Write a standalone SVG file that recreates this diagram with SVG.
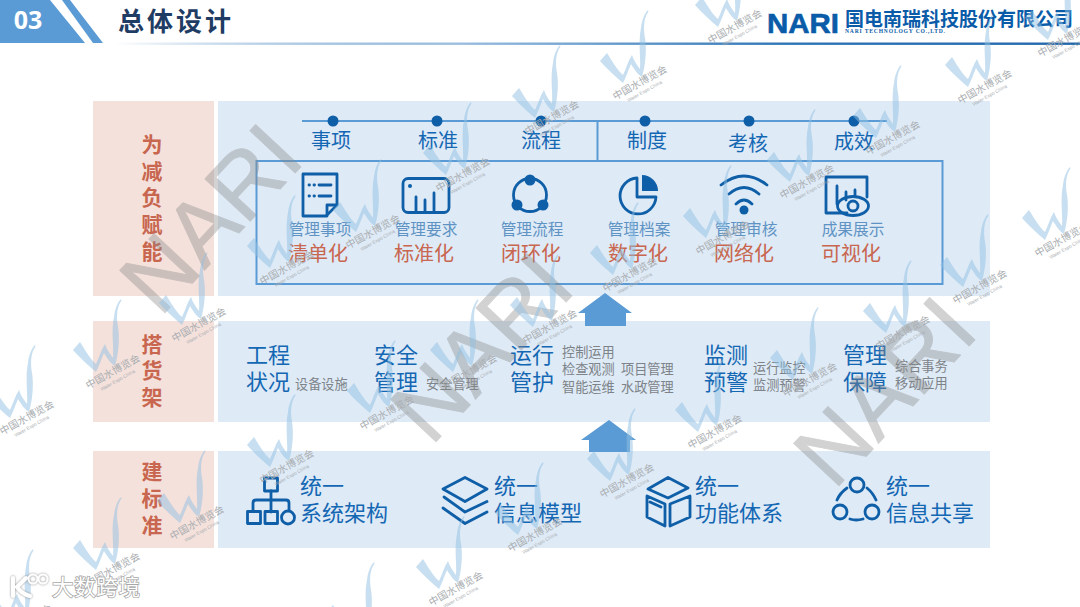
<svg xmlns="http://www.w3.org/2000/svg" width="1080" height="607" viewBox="0 0 1080 607">
<style>
text{font-family:"Noto Sans CJK SC","Liberation Sans",sans-serif}
.pink{fill:#f4e1dc}.blue{fill:#deeaf6}
.lab{font-size:21px;font-weight:700;fill:#c8664f;text-anchor:middle}
.head{font-size:20px;fill:#1467b3;text-anchor:middle}
.sub{font-size:15.7px;fill:#5f93c4;text-anchor:middle}
.red{font-size:20px;fill:#c8664f;text-anchor:middle}
.big{font-size:22px;fill:#1467b3}
.small{font-size:13.2px;fill:#7d8388}
.ic{fill:none;stroke:#0f5fa8;stroke-width:2.8;stroke-linecap:round;stroke-linejoin:round}
.icf{fill:#0f5fa8}
.ln{fill:none;stroke:#5b9bd5;stroke-width:2}
.arrow{fill:#5b9bd5}
.nari{font-family:"Liberation Sans",sans-serif;font-size:90px;fill:#8a8a8a;stroke:#8a8a8a;stroke-width:1;stroke-linejoin:round;opacity:.38}
.wmc{font-size:10px;fill:#a9adb1;text-anchor:middle}
.wme{font-family:"Liberation Sans",sans-serif;font-size:4.8px;fill:#a9adb1;text-anchor:middle}
.mark{font-size:21.5px;fill:#fff;stroke:#a8a8a8;stroke-width:1.6px;paint-order:stroke}
</style>
<defs>
<linearGradient id="rule" x1="0" x2="1" y1="0" y2="0"><stop offset="0" stop-color="#2e75b6" stop-opacity="0"/><stop offset=".35" stop-color="#9dbfe0"/><stop offset=".7" stop-color="#2e75b6"/><stop offset="1" stop-color="#2468ab"/></linearGradient>
<filter id="sh" x="-10%" y="-20%" width="120%" height="140%"><feDropShadow dx="0" dy="0" stdDeviation="1" flood-color="#777" flood-opacity=".9"/></filter>
<g id="wm">
<path d="M-40,-22L-33,-30C-28,-22 -22,-12 -17,-8C-14,-14 -12,-22 -8,-28C-6,-22 -3,-18 0,-14C1,-26 -2,-40 1,-55C2,-64 5,-70 8,-73C8.500,-72 8.500,-71 7.500,-70C4,-64 3.500,-56 4.500,-48C7,-36 6,-20 2,-6C-2,-8 -6,-14 -9,-19C-12,-12 -14,-6 -17,0C-24,-6 -33,-14 -40,-22Z" fill="#8fc0e2" opacity=".5"/>
<g transform="rotate(-29)"><text class="wmc" y="3">中国水博览会</text><text class="wme" y="11">Water Expo China</text></g>
</g>
</defs>
<rect width="1080" height="607" fill="#fff"/>

<g id="header">
<polygon points="0,0 50,0 85,43 0,43" fill="#5b9bd5"/>
<polygon points="62,0 70,0 103,43 93,43" fill="#5b9bd5"/>
<text x="28" y="29" font-size="25" font-weight="700" fill="#fff" text-anchor="middle" style="font-family:'Open Sans',sans-serif">03</text>
<text x="118" y="31" font-size="26" font-weight="700" fill="#1f3c64" letter-spacing="3">总体设计</text>
<rect x="115" y="42.5" width="965" height="2.4" fill="url(#rule)"/>
</g>
<g id="logo">
<text x="767" y="33" font-size="28.500" font-weight="700" fill="#0a5ba8" stroke="#0a5ba8" stroke-width=".6" textLength="72" lengthAdjust="spacingAndGlyphs" style="font-family:'Liberation Sans',sans-serif">NARI</text>
<text x="845" y="26" font-size="19" font-weight="700" fill="#0a5ba8" textLength="228" lengthAdjust="spacingAndGlyphs">国电南瑞科技股份有限公司</text>
<text x="845" y="33" font-size="5.6" font-weight="700" fill="#0a5ba8" textLength="100" style="font-family:'Liberation Serif',serif">NARI TECHNOLOGY CO.,LTD.</text>
</g>

<g id="layer-top">
<rect class="pink" x="93" y="101" width="121" height="195"/>
<rect class="blue" x="218" y="101" width="772" height="195"/>
<text class="lab" x="152" y="152">为</text><text class="lab" x="152" y="179">减</text><text class="lab" x="152" y="205">负</text><text class="lab" x="152" y="232">赋</text><text class="lab" x="152" y="259">能</text>
</g>
<g id="layer-mid">
<rect class="pink" x="93" y="321" width="121" height="101"/>
<rect class="blue" x="218" y="321" width="772" height="101"/>
<text class="lab" x="152" y="352">搭</text><text class="lab" x="152" y="378">货</text><text class="lab" x="152" y="405">架</text>
</g>
<g id="layer-bottom">
<rect class="pink" x="93" y="451" width="121" height="97"/>
<rect class="blue" x="218" y="451" width="772" height="97"/>
<text class="lab" x="152" y="479">建</text><text class="lab" x="152" y="506">标</text><text class="lab" x="152" y="533">准</text>
</g>

<g id="connectors">
<path class="ln" d="M302,121H887M597.500,121V161"/>
<rect class="ln" x="256.500" y="161" width="686" height="123"/>
<g class="icf"><circle cx="333" cy="121" r="5.500"/><circle cx="437" cy="121" r="5.500"/><circle cx="541" cy="121" r="5.500"/><circle cx="645" cy="121" r="5.500"/><circle cx="749" cy="121" r="5.500"/><circle cx="854" cy="121" r="5.500"/></g>
<polygon class="arrow" points="605,293 632,313 626,313 626,326 585,326 585,313 578,313"/>
<polygon class="arrow" points="609,420 636,440 630,440 630,452 589,452 589,440 581,440"/>
</g>

<g id="node-shixiang"><text class="head" x="331" y="148">事项</text>
<path class="ic" d="M303,174H337V205L326,216H303Z"/><path class="ic" d="M337,205H327V216" stroke-width="2"/><path class="ic" stroke-width="1.800" d="M309,185H309.500M314,185H314.500M319,185H331M309,196H309.500M314,196H314.500M319,196H331"/>
<text class="sub" x="320" y="235">管理事项</text><text class="red" x="318" y="261">清单化</text></g>
<g id="node-biaozhun"><text class="head" x="438" y="148">标准</text>
<rect class="ic" x="403" y="178.500" width="46" height="34" rx="5" stroke-width="3"/><circle class="icf" cx="410" cy="186" r="2"/><path class="ic" d="M416,197V211M425,200V211M434,193V211"/>
<text class="sub" x="426" y="235">管理要求</text><text class="red" x="424" y="261">标准化</text></g>
<g id="node-liucheng"><text class="head" x="541" y="148">流程</text>
<circle class="ic" cx="530" cy="195" r="16.500"/><circle class="icf" cx="530" cy="180" r="5.500"/><circle class="icf" cx="517" cy="205" r="5.500"/><circle class="icf" cx="543" cy="205" r="5.500"/>
<text class="sub" x="532" y="235">管理流程</text><text class="red" x="531" y="261">闭环化</text></g>
<g id="node-zhidu"><text class="head" x="647" y="148">制度</text>
<path class="ic" d="M637,178A18,18 0 1 0 656,197H637Z"/><path class="icf" d="M642,175A16,16 0 0 1 658,191H642Z"/>
<text class="sub" x="639" y="235">管理档案</text><text class="red" x="638" y="261">数字化</text></g>
<g id="node-kaohe"><text class="head" x="748" y="151">考核</text>
<path class="ic" stroke-width="3" d="M721,185Q744,167 767,185M729,194Q744,181 759,194M736,204Q744,196 752,204"/><circle class="icf" cx="744" cy="210" r="4.500"/>
<text class="sub" x="746" y="235">管理审核</text><text class="red" x="744" y="261">网络化</text></g>
<g id="node-chengxiao"><text class="head" x="854" y="149">成效</text>
<path class="ic" d="M867,197V177H826V213H847M837,186V204M846,192V200M855,190V195"/><ellipse class="ic" cx="853" cy="206" rx="15.500" ry="9.500" stroke-width="2"/><circle class="ic" cx="853" cy="206" r="5" stroke-width="2"/>
<text class="sub" x="853" y="235">成果展示</text><text class="red" x="851" y="261">可视化</text></g>

<g id="node-gongcheng"><text class="big" x="246" y="363">工程</text><text class="big" x="246" y="390">状况</text><text class="small" x="295" y="389">设备设施</text></g>
<g id="node-anquan"><text class="big" x="374" y="363">安全</text><text class="big" x="374" y="390">管理</text><text class="small" x="426" y="389">安全管理</text></g>
<g id="node-yunxing"><text class="big" x="510" y="363">运行</text><text class="big" x="510" y="390">管护</text><text class="small" x="562" y="357">控制运用</text><text class="small" x="562" y="374">检查观测</text><text class="small" x="562" y="392">智能运维</text><text class="small" x="621" y="374">项目管理</text><text class="small" x="621" y="392">水政管理</text></g>
<g id="node-jiance"><text class="big" x="704" y="363">监测</text><text class="big" x="704" y="390">预警</text><text class="small" x="753" y="373">运行监控</text><text class="small" x="753" y="390">监测预警</text></g>
<g id="node-baozhang"><text class="big" x="843" y="363">管理</text><text class="big" x="843" y="390">保障</text><text class="small" x="895" y="371">综合事务</text><text class="small" x="895" y="388">移动应用</text></g>

<g id="node-jiagou"><text class="big" x="300" y="494">统一</text><text class="big" x="300" y="521">系统架构</text>
<rect class="ic" x="264.500" y="478" width="13" height="13"/><path class="ic" d="M271,491V512M253,510V503Q253,500 256,500H286Q289,500 289,503V510"/><rect class="ic" x="247.500" y="511.500" width="13" height="12"/><rect class="ic" x="265" y="511.500" width="12.500" height="12"/><circle class="ic" cx="288" cy="517.500" r="6.500"/></g>
<g id="node-moxing"><text class="big" x="494" y="494">统一</text><text class="big" x="494" y="521">信息模型</text>
<path class="ic" stroke-width="3" d="M443,489L465,477.500L487,489L465,501.500ZM444,497L465,512L487,501.500M443,508L465,523.500L487,512"/></g>
<g id="node-tixi"><text class="big" x="695" y="494">统一</text><text class="big" x="695" y="521">功能体系</text>
<path class="ic" stroke-width="3" d="M648,489L668,477.500L688,488L668,498ZM647,496L665,504V526L647,517ZM670,504L690,496V517L670,526ZM650,502L661,507"/></g>
<g id="node-gongxiang"><text class="big" x="886" y="494">统一</text><text class="big" x="886" y="521">信息共享</text>
<circle class="ic" cx="857" cy="485" r="7"/><circle class="ic" cx="840" cy="512" r="7"/><circle class="ic" cx="872" cy="512" r="7"/><path class="ic" d="M837,500Q840,493 847,488M867,488Q873,493 876,500M850,519Q856,521 863,519"/></g>

<g id="watermark-nari">
<text class="nari" transform="translate(160,318) rotate(-47)">NARI</text>
<text class="nari" transform="translate(431,447) rotate(-47)">NARI</text>
<text class="nari" transform="translate(834,491) rotate(-47)">NARI</text>
</g>
<g id="watermarks">
<use href="#wm" x="735" y="27"/><use href="#wm" x="640" y="83"/><use href="#wm" x="552" y="118"/><use href="#wm" x="463" y="175"/><use href="#wm" x="373" y="232"/><use href="#wm" x="287" y="268"/><use href="#wm" x="199" y="325"/><use href="#wm" x="113" y="372"/><use href="#wm" x="27" y="418"/>
<use href="#wm" x="1065" y="40"/><use href="#wm" x="985" y="87"/><use href="#wm" x="893" y="138"/><use href="#wm" x="807" y="182"/><use href="#wm" x="723" y="238"/><use href="#wm" x="630" y="275"/><use href="#wm" x="550" y="327"/><use href="#wm" x="470" y="372"/><use href="#wm" x="387" y="413"/><use href="#wm" x="287" y="467"/><use href="#wm" x="197" y="523"/><use href="#wm" x="113" y="570"/><use href="#wm" x="25" y="622"/>
<use href="#wm" x="1062" y="240"/><use href="#wm" x="980" y="287"/><use href="#wm" x="903" y="333"/><use href="#wm" x="810" y="380"/><use href="#wm" x="715" y="432"/><use href="#wm" x="627" y="481"/><use href="#wm" x="535" y="535"/><use href="#wm" x="456" y="589"/><use href="#wm" x="366" y="635"/>
</g>
<g id="source-mark">
<g filter="url(#sh)"><path d="M13,578V596M26,578L17,587Q22,594 30,596" fill="none" stroke="#fff" stroke-width="4" stroke-linecap="round"/>
<circle cx="33" cy="579" r="4.500" fill="none" stroke="#fff" stroke-width="2"/><circle cx="43" cy="579" r="4.500" fill="none" stroke="#fff" stroke-width="2"/></g>
<text class="mark" x="52" y="595" textLength="88">大数跨境</text>
</g>
</svg>
